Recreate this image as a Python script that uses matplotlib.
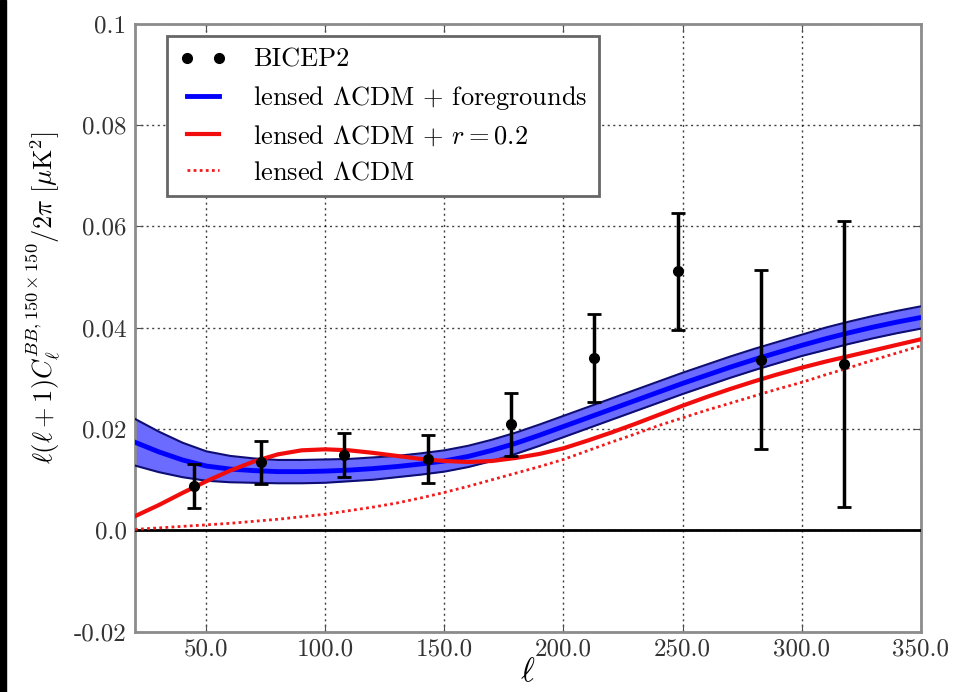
import matplotlib
matplotlib.use('Agg')
import matplotlib.pyplot as plt
from matplotlib.patches import Rectangle
import numpy as np

# multipole grid for model curves
ell_model = [20, 30, 40, 50, 60, 70, 80, 90, 100, 110, 120, 130, 140, 150, 160, 170,
             180, 190, 200, 210, 220, 230, 240, 250, 260, 270, 280, 290, 300, 310,
             320, 330, 340, 350]

# lensed LCDM + foregrounds (centre and 1-sigma half width)
fg_mid = [0.0174, 0.0155, 0.0139, 0.0127, 0.0121, 0.0118, 0.0116, 0.0116, 0.0117,
          0.0119, 0.0122, 0.0126, 0.0131, 0.0137, 0.0146, 0.0158, 0.0172, 0.0188,
          0.0205, 0.0222, 0.0239, 0.0256, 0.0273, 0.0290, 0.0306, 0.0322, 0.0337,
          0.0351, 0.0365, 0.0378, 0.0390, 0.0401, 0.0411, 0.0420]
fg_err = [0.0046, 0.0040, 0.0034, 0.0029, 0.0026, 0.0024, 0.0023, 0.0023, 0.0023,
          0.0022, 0.0022, 0.0021, 0.0021, 0.0021, 0.0021, 0.0021, 0.0021, 0.0021,
          0.0021, 0.0021, 0.0021, 0.0021, 0.0021, 0.0021, 0.0021, 0.0021, 0.0021,
          0.0021, 0.0021, 0.0022, 0.0022, 0.0022, 0.0022, 0.0022]

# lensed LCDM + r=0.2
r02 = [0.0028, 0.0050, 0.0074, 0.0097, 0.0118, 0.0136, 0.0150, 0.0158, 0.0160,
       0.0158, 0.0153, 0.0147, 0.0141, 0.0137, 0.0135, 0.0137, 0.0143, 0.0151,
       0.0162, 0.0177, 0.0193, 0.0210, 0.0228, 0.0246, 0.0263, 0.0279, 0.0294,
       0.0308, 0.0321, 0.0333, 0.0344, 0.0355, 0.0366, 0.0377]

# lensed LCDM only
lensed = [0.0002, 0.0005, 0.0008, 0.0011, 0.0014, 0.0018, 0.0022, 0.0027, 0.0032,
          0.0039, 0.0046, 0.0054, 0.0064, 0.0075, 0.0087, 0.0100, 0.0113, 0.0126,
          0.0140, 0.0157, 0.0174, 0.0190, 0.0207, 0.0222, 0.0237, 0.0251, 0.0265,
          0.0279, 0.0292, 0.0307, 0.0321, 0.0336, 0.0350, 0.0364]

# BICEP2 bandpowers
bicep_ell = [45, 73, 108, 143, 178, 213, 248, 283, 318]
bicep_val = [0.0088, 0.0134, 0.0149, 0.0141, 0.0209, 0.0340, 0.0511, 0.0337, 0.0329]
bicep_err = [0.0044, 0.0042, 0.0044, 0.0047, 0.0062, 0.0086, 0.0115, 0.0177, 0.0282]

xticks = [50, 100, 150, 200, 250, 300, 350]
xticklabels = ['50.0', '100.0', '150.0', '200.0', '250.0', '300.0', '350.0']
yticks = [-0.02, 0.0, 0.02, 0.04, 0.06, 0.08, 0.1]
yticklabels = ['-0.02', '0.0', '0.02', '0.04', '0.06', '0.08', '0.1']

plt.rcParams['font.family'] = 'serif'
plt.rcParams['font.serif'] = ['cmr10']
plt.rcParams['mathtext.fontset'] = 'cm'
plt.rcParams['axes.unicode_minus'] = False

fig = plt.figure(figsize=(9.57, 6.92), dpi=100)
ax = fig.add_axes([0.141, 0.087, 0.821, 0.879])

lo = np.array(fg_mid) - np.array(fg_err)
hi = np.array(fg_mid) + np.array(fg_err)
ax.fill_between(ell_model, lo, hi, color=(0.42, 0.42, 1.0), lw=0, zorder=2)
ax.plot(ell_model, lo, color=(0.05, 0.05, 0.45), lw=1.5, zorder=3)
ax.plot(ell_model, hi, color=(0.05, 0.05, 0.45), lw=1.5, zorder=3)
ax.plot(ell_model, fg_mid, color=(0.0, 0.0, 1.0), lw=3.5, zorder=4,
        label=r'lensed $\Lambda$CDM + foregrounds')
ax.plot(ell_model, r02, color=(0.95, 0.05, 0.05), lw=3, zorder=5,
        label=r'lensed $\Lambda$CDM + $r=0.2$')
ax.plot(ell_model, lensed, color=(0.95, 0.1, 0.1), lw=2, ls=(0, (1, 1.2)), zorder=5,
        label=r'lensed $\Lambda$CDM')

ax.axhline(0.0, color='k', lw=2, zorder=4)

ax.errorbar(bicep_ell, bicep_val, yerr=bicep_err, fmt='none', ecolor='k',
            elinewidth=2.5, capsize=5, capthick=2, zorder=6)
ax.plot(bicep_ell, bicep_val, 'o', color='k', ms=7, zorder=7, label='BICEP2')

ax.set_xlim(20, 350)
ax.set_ylim(-0.02, 0.1)
ax.set_xticks(xticks)
ax.set_xticklabels(xticklabels)
ax.set_yticks(yticks)
ax.set_yticklabels(yticklabels)
ax.tick_params(direction='in', top=True, right=True, length=6, labelsize=18,
               colors='0.3', labelcolor='0.2')
ax.tick_params(axis='x', pad=5)
ax.tick_params(axis='y', pad=6)
for s in ax.spines.values():
    s.set_color('0.55')
    s.set_linewidth(2)

ax.grid(True, color='k', ls=(0, (1.5, 2.5)), lw=1, alpha=0.75)
ax.set_axisbelow(True)

ax.set_xlabel(r'$\ell$', fontsize=24, labelpad=-2)
ax.set_ylabel(r'$\ell(\ell+1)C_\ell^{BB,150\times150}/2\pi\ [\mu{\rm K}^2]$',
              fontsize=19)
ax.yaxis.set_label_coords(-0.093, 0.55)

handles, labels = ax.get_legend_handles_labels()
order = [3, 0, 1, 2]
leg = ax.legend([handles[i] for i in order], [labels[i] for i in order],
                loc='upper left', bbox_to_anchor=(0.041, 0.979), borderaxespad=0,
                numpoints=2, fontsize=19, labelspacing=0.45, handlelength=1.8,
                handletextpad=1.0, borderpad=0.45,
                fancybox=False, framealpha=1, edgecolor='0.4')
leg.get_frame().set_linewidth(2)

fig.patches.append(Rectangle((0, 0), 6 / 957, 1, transform=fig.transFigure,
                             color='k', zorder=10))

fig.savefig('out.png', dpi=100)
